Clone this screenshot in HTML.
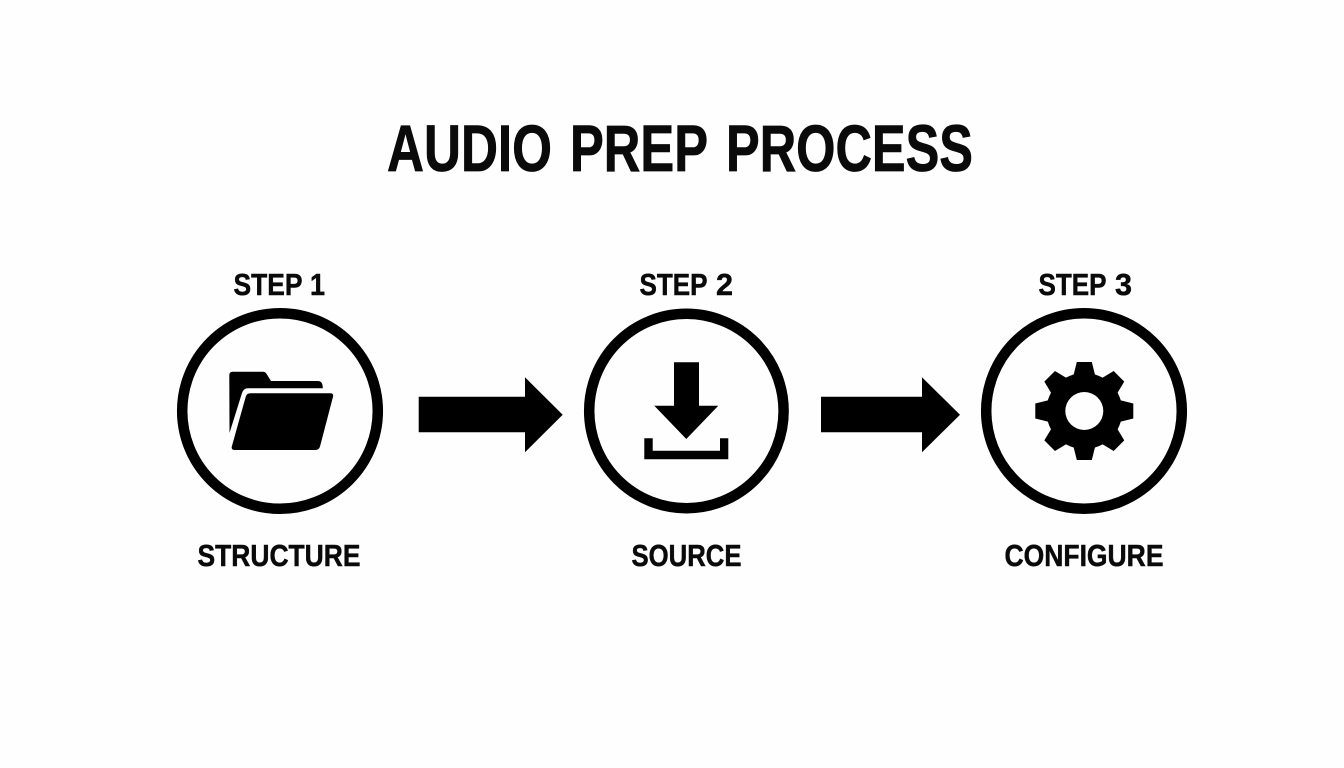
<!DOCTYPE html>
<html><head><meta charset="utf-8"><style>
html,body{margin:0;padding:0;background:#fff;width:1344px;height:768px;overflow:hidden}
svg{display:block}
text{font-family:"Liberation Sans",sans-serif;font-weight:700;fill:#0a0a0a}
.t{font-size:66px;stroke:#0a0a0a;stroke-width:.8px}
.l{font-size:30.5px;stroke:#0a0a0a;stroke-width:.5px}
</style></head><body>
<svg width="1344" height="768" viewBox="0 0 1344 768" xmlns="http://www.w3.org/2000/svg">
<rect width="1344" height="768" fill="#fefefe"/>
<text class="t" x="387" y="171" textLength="165" lengthAdjust="spacingAndGlyphs">AUDIO</text>
<text class="t" x="570" y="171" textLength="138" lengthAdjust="spacingAndGlyphs">PREP</text>
<text class="t" x="726" y="171" textLength="247" lengthAdjust="spacingAndGlyphs">PROCESS</text>

<text class="l" x="233.5" y="295" textLength="69" lengthAdjust="spacingAndGlyphs">STEP</text>
<text class="l" x="310" y="295" textLength="15" lengthAdjust="spacingAndGlyphs">1</text>
<text class="l" x="639.5" y="295" textLength="68" lengthAdjust="spacingAndGlyphs">STEP</text>
<text class="l" x="716" y="295" textLength="17" lengthAdjust="spacingAndGlyphs">2</text>
<text class="l" x="1038.5" y="295" textLength="68" lengthAdjust="spacingAndGlyphs">STEP</text>
<text class="l" x="1115" y="295" textLength="17" lengthAdjust="spacingAndGlyphs">3</text>
<text class="l" x="197.5" y="566" textLength="163" lengthAdjust="spacingAndGlyphs">STRUCTURE</text>
<text class="l" x="631.5" y="566" textLength="110" lengthAdjust="spacingAndGlyphs">SOURCE</text>
<text class="l" x="1004.5" y="566" textLength="159" lengthAdjust="spacingAndGlyphs">CONFIGURE</text>

<g fill="none" stroke="#000" stroke-width="10.5">
<circle cx="280" cy="411" r="97.8"/>
<circle cx="686.4" cy="411" r="97.2"/>
<circle cx="1084" cy="411" r="97.8"/>
</g>

<polygon points="418.7,396.7 525,396.7 525,377.3 562.7,414.7 525,452.3 525,432.3 418.7,432.3" fill="#000"/>
<polygon points="821,396.7 922,396.7 922,377.3 960,414.7 922,452.3 922,432.3 821,432.3" fill="#000"/>

<!-- folder -->
<path d="M229.3 375 Q229.3 371.7 232.6 371.7 H263 Q265.2 371.7 266.3 373.5 L271 381 H318 Q322.8 381 322.8 388.2 H248 Q243.5 388.2 242 393 L229.5 433 Z" fill="#000"/>
<path d="M250.5 393.3 H330.5 Q333.8 393.3 333 396.8 L320 446.5 Q319 450 315.5 450 H234.5 Q231 450 231.8 446.5 L245.8 396.5 Q246.8 393.3 250.5 393.3 Z" fill="#000"/>

<!-- download -->
<polygon points="674,362.3 699,362.3 699,405.7 718.3,405.7 686.3,439 654.3,405.7 674,405.7" fill="#000"/>
<polygon points="644.3,438.3 652.7,438.3 652.7,450.7 720,450.7 720,438.3 728.3,438.3 728.3,459.3 644.3,459.3" fill="#000"/>

<!-- gear -->
<g transform="translate(1084.3 411)" fill="#000">
<circle r="38"/>
<polygon points="-11,-35 -7.5,-49 7.5,-49 11,-35"/>
<polygon points="-11,-35 -7.5,-49 7.5,-49 11,-35" transform="rotate(45)"/>
<polygon points="-11,-35 -7.5,-49 7.5,-49 11,-35" transform="rotate(90)"/>
<polygon points="-11,-35 -7.5,-49 7.5,-49 11,-35" transform="rotate(135)"/>
<polygon points="-11,-35 -7.5,-49 7.5,-49 11,-35" transform="rotate(180)"/>
<polygon points="-11,-35 -7.5,-49 7.5,-49 11,-35" transform="rotate(225)"/>
<polygon points="-11,-35 -7.5,-49 7.5,-49 11,-35" transform="rotate(270)"/>
<polygon points="-11,-35 -7.5,-49 7.5,-49 11,-35" transform="rotate(315)"/>
<circle r="19" fill="#fefefe"/>
</g>
</svg>
</body></html>
